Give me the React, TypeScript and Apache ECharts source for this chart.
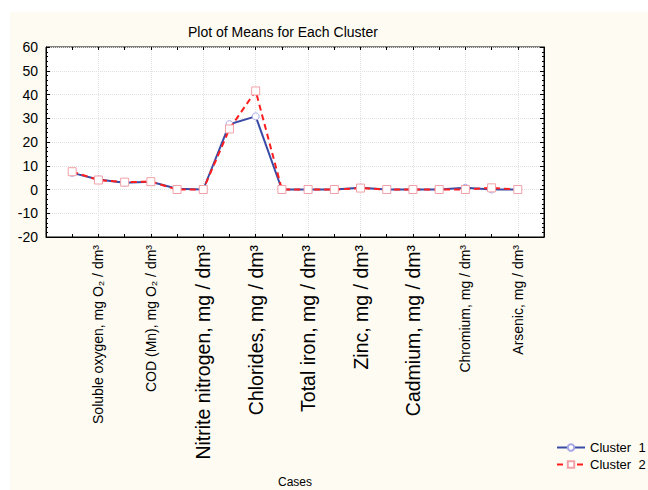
import React, { useEffect, useRef } from "react";
import * as echarts from "echarts";

const categories: string[] = [
  "pH",
  "Soluble oxygen, mg O₂ / dm³",
  "BOD₅, mg O₂ / dm³",
  "COD (Mn), mg O₂ / dm³",
  "Ammonium nitrogen, mg / dm³",
  "Nitrite nitrogen, mg / dm³",
  "Sulfates, mg / dm³",
  "Chlorides, mg / dm³",
  "Phosphates, mg / dm³",
  "Total iron, mg / dm³",
  "Copper, mg / dm³",
  "Zinc, mg / dm³",
  "Lead, mg / dm³",
  "Cadmium, mg / dm³",
  "Nickel, mg / dm³",
  "Chromium, mg / dm³",
  "Manganese, mg / dm³",
  "Arsenic, mg / dm³",
];
const largeLabels: string[] = [
  "Nitrite nitrogen, mg / dm³",
  "Chlorides, mg / dm³",
  "Total iron, mg / dm³",
  "Zinc, mg / dm³",
  "Cadmium, mg / dm³",
];
const cluster1: number[] = [7, 4.2, 2.8, 3.3, 0.3, 0, 27.5, 30.8, 0, 0, 0, 0.7, 0, 0, 0, 0.7, 0, 0];
const cluster2: number[] = [7.5, 4, 3.1, 3.3, 0, 0, 25.5, 41.5, 0, 0, 0, 0.6, 0, 0, 0, 0, 0.7, 0];
const yTicks = { min: -20, max: 60, interval: 10 };
const seriesNames = ["Cluster  1", "Cluster  2"];

export default function App() {
  const ref = useRef<HTMLDivElement>(null);
  useEffect(() => {
    if (!ref.current) return;
    const chart = echarts.init(ref.current, undefined, { renderer: "svg" });
    const padded = ["", ...categories, ""];
    const pad = (a: number[]) => [null, ...a, null];
    const font = "Arial, 'Liberation Sans', sans-serif";
    const labelShown = (i: number) => i > 0 && i < padded.length - 1 && i % 2 === 0;
    chart.setOption({
      animation: false,
      textStyle: { fontFamily: font },
      graphic: [
        {
          type: "rect",
          shape: { x: 10, y: 12, width: 640, height: 480 },
          style: { fill: "#FDFBF2" },
          z: -10,
          silent: true,
        },
      ],
      title: {
        text: "Plot of Means for Each Cluster",
        left: 183,
        top: 20,
        textStyle: { fontSize: 14, fontWeight: "normal", color: "#000", fontFamily: font },
      },
      legend: {
        orient: "vertical",
        left: 556,
        top: 441,
        padding: 0,
        itemWidth: 28,
        itemHeight: 8,
        itemGap: 4,
        textStyle: { fontSize: 13, color: "#000", fontFamily: font },
        data: seriesNames,
      },
      grid: {
        left: 46,
        right: 104,
        top: 47,
        bottom: 253,
        show: true,
        backgroundColor: "#fff",
        borderColor: "#000",
        borderWidth: 1,
        z: 0,
        outerBoundsMode: "none",
        containLabel: false,
      },
      xAxis: [
        {
          type: "category",
          data: padded,
          boundaryGap: false,
          name: "Cases",
          nameLocation: "middle",
          nameGap: 239,
          nameTextStyle: { fontSize: 12, color: "#000", fontFamily: font },
          axisLine: { onZero: false, lineStyle: { color: "#000" } },
          axisTick: { inside: true, length: 3, interval: 0, lineStyle: { color: "#000" } },
          splitLine: { show: true, interval: labelShown, lineStyle: { color: "#e0e0e0", type: "dotted" } },
          axisLabel: {
            rotate: 90,
            margin: 8,
            color: "#000",
            interval: labelShown,
            formatter: (v: string) => (largeLabels.indexOf(v) >= 0 ? `{b|${v}}` : `{s|${v}}`),
            rich: {
              b: { fontSize: 19.5, fontFamily: font, color: "#000" },
              s: { fontSize: 14, fontFamily: font, color: "#000" },
            },
          },
        },
        {
          type: "category",
          data: padded,
          boundaryGap: false,
          position: "top",
          axisLine: { show: false, onZero: false },
          axisTick: { inside: true, length: 3, interval: 0, lineStyle: { color: "#000" } },
          axisLabel: { show: false },
          splitLine: { show: false },
        },
      ],
      yAxis: [
        {
          type: "value",
          min: yTicks.min,
          max: yTicks.max,
          interval: yTicks.interval,
          axisLine: { show: true, onZero: false, lineStyle: { color: "#000" } },
          axisTick: { show: true, inside: true, length: 4, lineStyle: { color: "#000" } },
          minorTick: { show: true, splitNumber: 5, length: 2, lineStyle: { color: "#000" } },
          axisLabel: { fontSize: 14, color: "#000", margin: 8, fontFamily: font },
          splitLine: { show: true, lineStyle: { color: "#e0e0e0", type: "dotted" } },
        },
        {
          type: "value",
          position: "right",
          min: yTicks.min,
          max: yTicks.max,
          interval: yTicks.interval,
          axisLine: { show: true, onZero: false, lineStyle: { color: "#000" } },
          axisTick: { show: true, inside: true, length: 4, lineStyle: { color: "#000" } },
          minorTick: { show: true, splitNumber: 5, length: 2, lineStyle: { color: "#000" } },
          axisLabel: { show: false },
          splitLine: { show: false },
        },
      ],
      series: [
        {
          name: seriesNames[0],
          type: "line",
          data: pad(cluster1),
          symbol: "circle",
          symbolSize: 7,
          showAllSymbol: true,
          lineStyle: { color: "#3A4BA6", width: 2 },
          itemStyle: { color: "#fff", borderColor: "#A8A8E8", borderWidth: 1 },
          z: 3,
        },
        {
          name: seriesNames[1],
          type: "line",
          data: pad(cluster2),
          symbol: "rect",
          symbolSize: 8,
          showAllSymbol: true,
          lineStyle: { color: "#FF1E1E", width: 2, type: [6, 4] },
          itemStyle: { color: "#fff", borderColor: "#F2A0A8", borderWidth: 1 },
          z: 4,
        },
      ],
    });
    return () => chart.dispose();
  }, []);
  return (
    <div
      ref={ref}
      style={{ position: "fixed", left: 0, top: 0, width: 648, height: 490, background: "#fff" }}
    />
  );
}
